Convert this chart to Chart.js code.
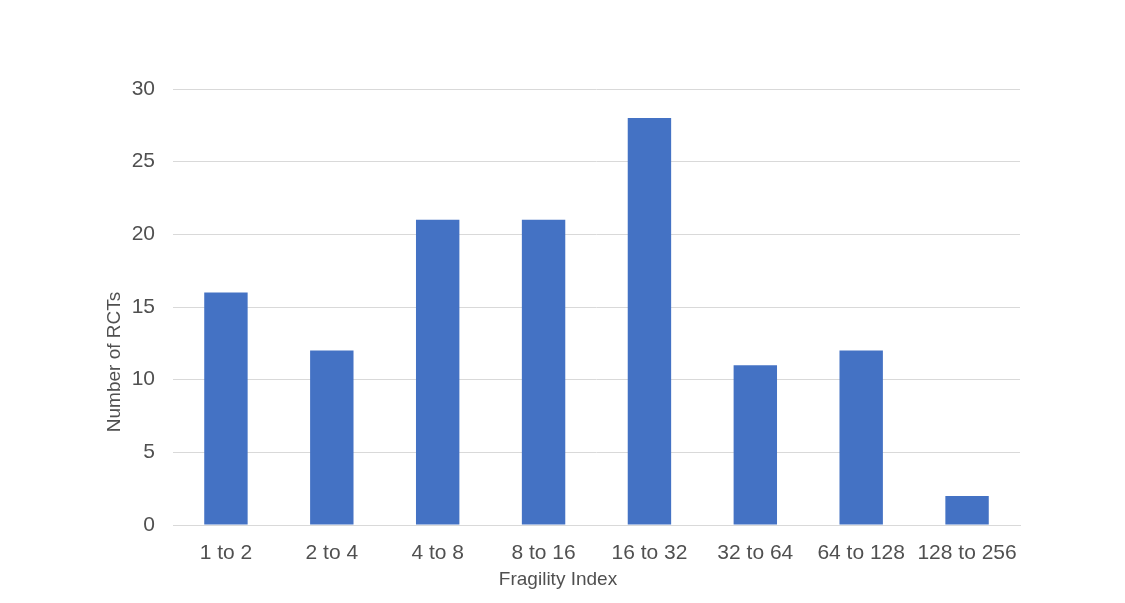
<!DOCTYPE html>
<html>
<head>
<meta charset="utf-8">
<script src="https://cdn.jsdelivr.net/npm/chart.js@4"></script>
<style>
html,body{margin:0;padding:0;background:#fff;}
#wrap{width:1125px;height:603px;}
</style>
</head>
<body>
<div id="wrap"><canvas id="c" width="1125" height="603"></canvas></div>
<script>
const categories = ["1 to 2","2 to 4","4 to 8","8 to 16","16 to 32","32 to 64","64 to 128","128 to 256"];
const counts = [16,12,21,21,28,11,12,2];
const yTicks = [0,5,10,15,20,25,30];
const yTitle = 'Number of RCTs';
const xTitle = 'Fragility Index';

const fontFamily = "'Liberation Sans', Arial, sans-serif";
const tickFont = {family: fontFamily, size: 21};
const titleSize = 19;
const textColor = '#505050';

const titlesPlugin = {
  id: 'axisTitles',
  afterDraw(chart) {
    const ctx = chart.ctx;
    ctx.save();
    ctx.font = titleSize + 'px ' + fontFamily;
    ctx.fillStyle = textColor;
    ctx.textAlign = 'center';
    ctx.textBaseline = 'middle';
    ctx.fillText(xTitle, 558, 580);
    ctx.translate(115, 362);
    ctx.rotate(-Math.PI / 2);
    ctx.fillText(yTitle, 0, 0);
    ctx.restore();
  }
};

new Chart(document.getElementById('c'), {
  type: 'bar',
  data: {
    labels: categories,
    datasets: [{
      data: counts,
      backgroundColor: '#4472C4',
      borderWidth: 0,
      categoryPercentage: 1,
      barPercentage: 0.41
    }]
  },
  plugins: [titlesPlugin],
  options: {
    responsive: false,
    animation: false,
    layout: {padding: {left: 60, right: 105, top: 89, bottom: 10}},
    plugins: {legend: {display: false}, tooltip: {enabled: false}},
    scales: {
      x: {
        grid: {display: false},
        border: {display: true, color: '#d9d9d9', width: 1},
        ticks: {color: textColor, font: tickFont, padding: 8, maxRotation: 0, autoSkip: false},
        afterFit: s => { s.height = 603 - 10 - 525; }
      },
      y: {
        min: 0, max: 30,
        afterBuildTicks: s => { s.ticks = yTicks.map(v => ({value: v})); },
        grid: {color: '#d9d9d9', lineWidth: 1, drawTicks: false},
        border: {display: false},
        ticks: {color: textColor, font: tickFont, padding: 18},
        afterFit: s => { s.width = 173 - 60; }
      }
    }
  }
});
</script>
</body>
</html>
